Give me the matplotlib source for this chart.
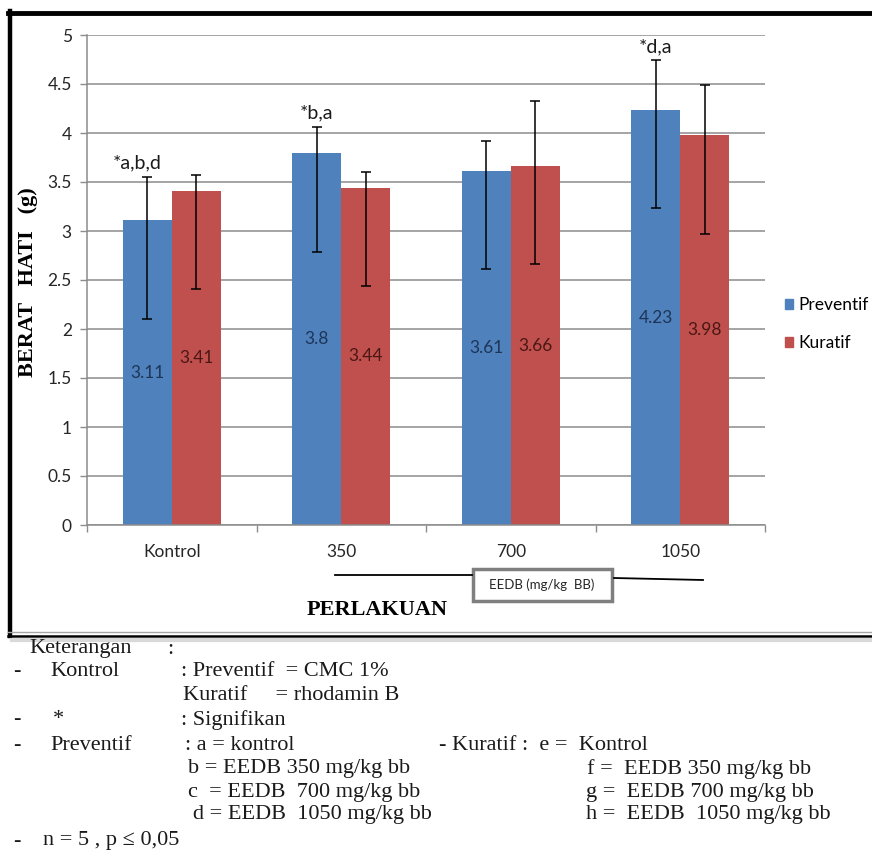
import numpy as np
import matplotlib
matplotlib.use("Agg")
import matplotlib.pyplot as plt
from matplotlib.lines import Line2D
from matplotlib.patches import Patch, Rectangle

# data
categories = ["Kontrol", "350", "700", "1050"]
preventif = [3.11, 3.80, 3.61, 4.23]
kuratif = [3.41, 3.44, 3.66, 3.98]
prev_err_lo = [1.01, 1.01, 1.00, 1.00]
prev_err_hi = [0.44, 0.26, 0.31, 0.51]
kur_err_lo = [1.00, 1.00, 1.00, 1.01]
kur_err_hi = [0.16, 0.16, 0.67, 0.51]
notes = ["*a,b,d", "*b,a", "", "*d,a"]
yticks = [0, 0.5, 1, 1.5, 2, 2.5, 3, 3.5, 4, 4.5, 5]
ytick_labels = ["0", "0.5", "1", "1.5", "2", "2.5", "3", "3.5", "4", "4.5", "5"]

W, H = 872, 857
BLUE = "#4f81bd"
RED = "#c0504d"
GRID = "#8c8c8c"
SANS = "Lato"
SERIF = "Liberation Serif"


def fx(px):
    return px / W


def fy(py):
    return 1 - py / H


fig = plt.figure(figsize=(W / 100, H / 100), dpi=100)
ax = fig.add_axes([fx(87), fy(525), fx(765) - fx(87), fy(35) - fy(525)])

x = np.arange(len(categories))
bw = 0.289
b1 = ax.bar(x - bw / 2, preventif, bw, color=BLUE, zorder=2)
b2 = ax.bar(x + bw / 2, kuratif, bw, color=RED, zorder=2)
ax.errorbar(x - bw / 2, preventif, yerr=[prev_err_lo, prev_err_hi], fmt="none",
            ecolor="black", elinewidth=1.1, capsize=3.5, capthick=1.1, zorder=3)
ax.errorbar(x + bw / 2, kuratif, yerr=[kur_err_lo, kur_err_hi], fmt="none",
            ecolor="black", elinewidth=1.1, capsize=3.5, capthick=1.1, zorder=3)

# value labels in middle of bars
for xi, v in zip(x - bw / 2, preventif):
    ax.text(xi, v / 2, f"{v:g}", ha="center", va="center", fontsize=12.5,
            family=SANS, color="#1d3557", zorder=4)
for xi, v in zip(x + bw / 2, kuratif):
    ax.text(xi, v / 2, f"{v:g}", ha="center", va="center", fontsize=12.5,
            family=SANS, color="#4a1715", zorder=4)

# significance notes above preventif bars
for i, n in enumerate(notes):
    if not n:
        continue
    top = preventif[i] + prev_err_hi[i]
    dx = -10 if i == 0 else 0
    ax.annotate(n, (x[i] - bw / 2, top), xytext=(dx, 14), textcoords="offset pixels",
                ha="center", va="center", fontsize=14, family=SANS, color="#1a1a1a")

ax.set_xlim(-0.5, len(categories) - 0.5)
ax.set_ylim(0, 5)
ax.set_yticks(yticks)
ax.set_yticklabels(ytick_labels, family=SANS, fontsize=12.5, color="#262626")
ax.set_xticks(x)
ax.set_xticklabels(categories, family=SANS, fontsize=12.5, color="#262626")
ax.set_xticks(np.arange(len(categories) + 1) - 0.5, minor=True)
ax.tick_params(axis="x", which="major", length=0, pad=14)
ax.tick_params(axis="x", which="minor", length=5, color=GRID, width=1)
ax.tick_params(axis="y", length=5, color=GRID, width=1, pad=6)
ax.grid(axis="y", color=GRID, linewidth=1.1, zorder=0)
ax.set_axisbelow(True)
for s in ["top", "right"]:
    ax.spines[s].set_visible(False)
for s in ["left", "bottom"]:
    ax.spines[s].set_color(GRID)
    ax.spines[s].set_linewidth(1.1)

handles = [Patch(color=BLUE, label="Preventif"), Patch(color=RED, label="Kuratif")]
ax.legend(handles=handles, loc="center left", bbox_to_anchor=(fx(776), fy(324)),
          bbox_transform=fig.transFigure, frameon=False, borderpad=0,
          handlelength=0.5, handleheight=0.5, handletextpad=0.3, labelspacing=1.3,
          prop={"family": SANS, "size": 12.5})

# axis titles
fig.text(fx(28), fy(282), "BERAT   HATI   (g)", rotation=90, ha="center", va="center",
         family=SERIF, fontweight="bold", fontsize=16)
fig.text(fx(377), fy(610), "PERLAKUAN", ha="center", va="center",
         family=SERIF, fontweight="bold", fontsize=16)

# EEDB bracket
fig.add_artist(Line2D([fx(335), fx(472)], [fy(575), fy(575)], color="black", lw=1.3))
fig.add_artist(Line2D([fx(614), fx(703)], [fy(578), fy(580)], color="black", lw=1.3))
fig.add_artist(Rectangle((fx(473), fy(601)), fx(612) - fx(473), fy(569) - fy(601),
                         transform=fig.transFigure, fill=False, edgecolor="#7f7f7f", lw=2.5))
fig.text(fx(542), fy(585), "EEDB (mg/kg  BB)", ha="center", va="center",
         family=SANS, fontsize=9.5, color="#262626")

# frame around chart
fig.add_artist(Line2D([fx(10), fx(10)], [fy(11), fy(636)], color="black", lw=3.2))
fig.add_artist(Line2D([fx(8), fx(872)], [fy(12.5), fy(12.5)], color="black", lw=3.5))
fig.add_artist(Line2D([fx(8), fx(872)], [fy(632), fy(632)], color="#a6a6a6", lw=1))
fig.add_artist(Line2D([fx(8), fx(872)], [fy(635.5), fy(635.5)], color="black", lw=1.8))
fig.add_artist(Line2D([fx(12), fx(872)], [fy(640), fy(640)], color="#d9d9d9", lw=3))

# legend notes below the chart
notes_rows = [
    (29, 649, "Keterangan"), (167, 649, ":"),
    (13, 672, "-"), (50, 672, "Kontrol"), (181, 672, ": Preventif  = CMC 1%"),
    (183, 695, "Kuratif     = rhodamin B"),
    (13, 720, "-"), (53, 720, "*"), (181, 720, ": Signifikan"),
    (13, 745, "-"), (50, 745, "Preventif"), (185, 745, ": a = kontrol"),
    (439, 745, "- Kuratif :  e =  Kontrol"),
    (188, 769, "b = EEDB 350 mg/kg bb"), (587, 769, "f =  EEDB 350 mg/kg bb"),
    (188, 792, "c  = EEDB  700 mg/kg bb"), (586, 792, "g =  EEDB 700 mg/kg bb"),
    (193, 814, "d = EEDB  1050 mg/kg bb"), (586, 814, "h =  EEDB  1050 mg/kg bb"),
    (13, 841, "-"), (43, 841, "n = 5 , p \u2264 0,05"),
]
for px, py, s in notes_rows:
    fig.text(fx(px), fy(py), s, ha="left", va="center", family=SERIF, fontsize=16,
             color="#1a1a1a")

fig.savefig("out.png", dpi=100)
